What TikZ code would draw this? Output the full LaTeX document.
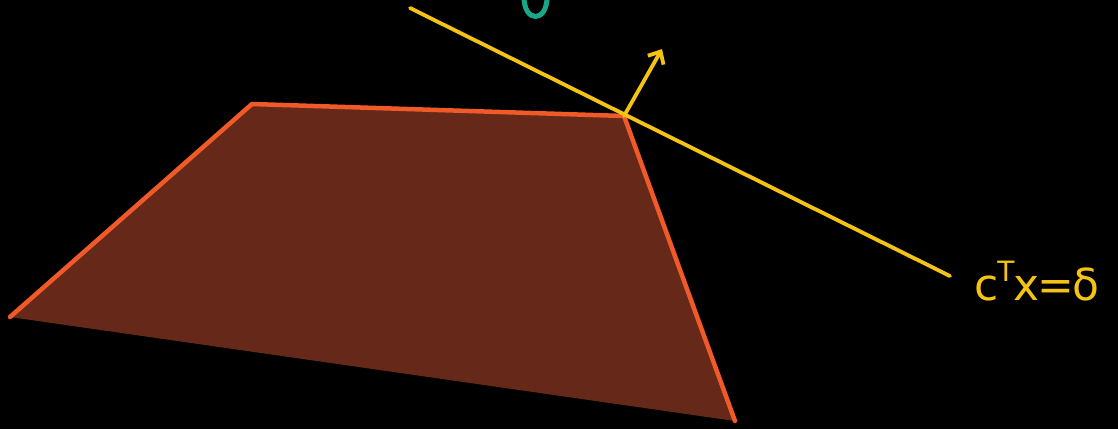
\documentclass[tikz,border=0pt]{standalone}
\usepackage{fontspec}
\setmainfont{DejaVu Sans}
\usetikzlibrary{arrows.meta}
\definecolor{edgeor}{RGB}{240,90,40}
\definecolor{fillbr}{RGB}{102,41,25}
\definecolor{yel}{RGB}{245,195,20}
\definecolor{grn}{RGB}{24,168,135}
\tikzset{
  edge/.style={draw=edgeor,line width=4.5pt,line cap=round,line join=round},
  yline/.style={draw=yel,line width=3.8pt,line cap=round},
  lbl/.style={text=yel,inner sep=0pt,anchor=base west,font=\fontsize{44}{52}\selectfont}
}
\begin{document}
\begin{tikzpicture}[x=1pt,y=-1pt]
\fill[black] (0,0) rectangle (1118,429);
\useasboundingbox (0,0) rectangle (1118,429);
\coordinate (A) at (10,317);
\coordinate (B) at (252,104);
\coordinate (C) at (624,116);
\coordinate (D) at (735,421);
\fill[fillbr] (A) -- (B) -- (C) -- (D) -- cycle;
\draw[edge] (A) -- (B) -- (C) -- (D);
\coordinate (L1) at (410,8);
\coordinate (L2) at (950,276);
\draw[yline] (L1) -- (L2);
\coordinate (N) at (662,49);
\draw[yline,-{Straight Barb[length=10pt,width=18pt]}] (C) -- (N);
\draw[draw=grn,line width=5pt,line cap=round] (524,-3) .. controls (524,23) and (547,23) .. (547,-3);
\node[lbl] (lab) at (974,300) {c\kern-1pt\raisebox{0.42em}{\fontsize{28}{28}\selectfont T}\kern-1ptx\kern-2pt=\kern-2ptδ};
\end{tikzpicture}
\end{document}
